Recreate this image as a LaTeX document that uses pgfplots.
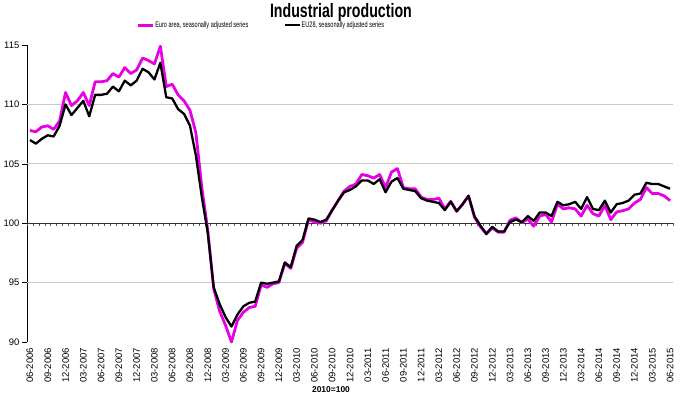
\documentclass[border=0pt]{standalone}
\usepackage{pgfplots}
\usepackage{pgfplotstable}
\pgfplotsset{compat=1.18}
\usepackage{fontspec}
\setmainfont{Liberation Sans}
\newfontfamily\narrowfont[FakeStretch=0.7]{Liberation Sans}
\newfontfamily\titlefont[FakeStretch=0.73]{Liberation Sans}
\definecolor{ea}{RGB}{230,0,230}
\definecolor{gridc}{RGB}{200,200,200}
\pgfplotstableread{
i ea eu
0 107.8 107.0
1 107.7 106.7
2 108.1 107.1
3 108.2 107.4
4 107.9 107.3
5 108.6 108.2
6 111.0 110.0
7 109.9 109.1
8 110.3 109.7
9 111.0 110.3
10 109.9 109.0
11 111.9 110.8
12 111.9 110.8
13 112.0 110.9
14 112.6 111.5
15 112.3 111.1
16 113.1 112.0
17 112.6 111.6
18 112.9 112.0
19 113.9 113.0
20 113.7 112.7
21 113.4 112.1
22 114.9 113.5
23 111.5 110.6
24 111.7 110.5
25 110.8 109.6
26 110.3 109.2
27 109.5 108.2
28 107.6 105.7
29 103.0 102.2
30 99.4 99.2
31 94.5 94.6
32 92.6 93.2
33 91.4 92.1
34 90.0 91.3
35 91.8 92.3
36 92.5 93.0
37 92.9 93.3
38 93.0 93.4
39 94.8 95.0
40 94.6 94.9
41 94.9 95.0
42 95.0 95.1
43 96.6 96.7
44 96.2 96.3
45 97.9 98.1
46 98.4 98.6
47 100.3 100.4
48 100.1 100.3
49 100.0 100.1
50 100.2 100.3
51 101.1 101.1
52 101.9 101.9
53 102.7 102.6
54 103.1 102.8
55 103.3 103.1
56 104.1 103.6
57 104.0 103.6
58 103.8 103.3
59 104.1 103.7
60 103.0 102.6
61 104.3 103.5
62 104.6 103.8
63 103.0 102.9
64 102.9 102.8
65 102.9 102.7
66 102.2 102.1
67 102.0 101.9
68 102.0 101.8
69 102.1 101.7
70 101.2 101.1
71 101.85 101.8
72 101.0 101.0
73 101.6 101.6
74 102.3 102.3
75 100.5 100.6
76 99.7 99.8
77 99.1 99.1
78 99.6 99.7
79 99.25 99.3
80 99.25 99.3
81 100.25 100.1
82 100.45 100.3
83 100.05 100.1
84 100.35 100.6
85 99.75 100.2
86 100.6 100.9
87 100.75 100.9
88 100.1 100.6
89 101.6 101.8
90 101.2 101.5
91 101.3 101.6
92 101.2 101.8
93 100.6 101.2
94 101.5 102.2
95 100.8 101.2
96 100.6 101.1
97 101.5 101.9
98 100.3 100.9
99 100.95 101.6
100 101.05 101.7
101 101.2 101.9
102 101.7 102.4
103 102.0 102.5
104 103.0 103.4
105 102.5 103.3
106 102.5 103.3
107 102.3 103.1
108 101.9 102.9
}\data
\begin{document}
\begin{tikzpicture}
\useasboundingbox (-27bp,-53bp) rectangle (653bp,342bp);
\begin{axis}[
 scale only axis, width=646bp, height=297bp,
 xmin=-0.5, xmax=108.5, ymin=90, ymax=115,
 axis x line*=bottom, axis y line*=left,
 x axis line style={draw=none},
 xtick={0,3,...,108},
 xticklabels={06-2006,09-2006,12-2006,03-2007,06-2007,09-2007,12-2007,03-2008,06-2008,09-2008,12-2008,03-2009,06-2009,09-2009,12-2009,03-2010,06-2010,09-2010,12-2010,03-2011,06-2011,09-2011,12-2011,03-2012,06-2012,09-2012,12-2012,03-2013,06-2013,09-2013,12-2013,03-2014,06-2014,09-2014,12-2014,03-2015,06-2015},
 xtick style={draw=none},
 ytick={90,95,...,115},
 tick align=outside, major tick length=5bp,
 y axis line style={black, line width=0.6bp},
 ytick style={black, line width=0.6bp},
 /pgf/number format/assume math mode=true,
 yticklabel style={font=\fontsize{9.5}{10}\selectfont, inner sep=1bp, xshift=-1.5bp},
 xticklabel style={font=\fontsize{9.5}{10}\selectfont, rotate=90, anchor=east, inner sep=1bp},
 clip=false,
 legend columns=2,
 legend style={draw=none, fill=none, at={(axis description cs:0.170,1.067)}, anchor=west, inner sep=0pt,
   font=\narrowfont\fontsize{8}{9}\selectfont,
   /tikz/every even column/.append style={column sep=35bp},
   nodes={inner sep=0.5bp}},
 legend image code/.code={\draw[#1] (0bp,0bp) -- (15bp,0bp);},
]
\draw[gridc, line width=0.8bp] (axis cs:-0.5,110) -- (axis cs:108.5,110);
\draw[gridc, line width=0.8bp] (axis cs:-0.5,105) -- (axis cs:108.5,105);
\draw[gridc, line width=0.8bp] (axis cs:-0.5,95) -- (axis cs:108.5,95);
\pgfplotsinvokeforeach{-0.5,0.5,...,108.5}{\draw[black!65, line width=0.5bp] (axis cs:#1,100) -- (axis cs:#1,99.75);}
\draw[black!80, line width=0.8bp] (axis cs:-0.5,100) -- (axis cs:108.5,100);
\addplot[ea, line width=2.8bp, line join=round] table[x=i, y=ea] {\data};
\addlegendentry{Euro area, seasonally adjusted series}
\addplot[black, line width=2.3bp, line join=round] table[x=i, y=eu] {\data};
\addlegendentry{EU28, seasonally adjusted series}
\node[font=\titlefont\bfseries\fontsize{19.5}{20}\selectfont, anchor=base] at (axis description cs:0.486,1.0925) {Industrial production};
\node[font=\bfseries\fontsize{8.5}{9}\selectfont] at (axis description cs:0.4706,-0.159) {2010=100};
\end{axis}
\end{tikzpicture}
\end{document}
